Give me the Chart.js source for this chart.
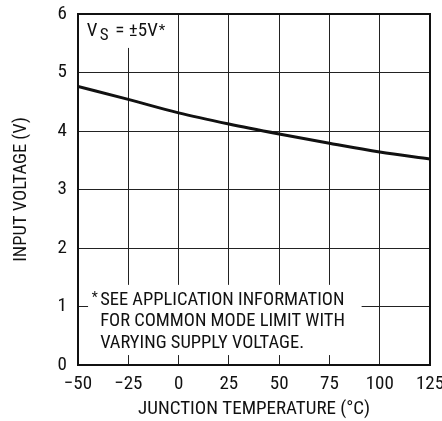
<!DOCTYPE html>
<html>
<head>
<meta charset="utf-8">
<script src="https://cdn.jsdelivr.net/npm/chart.js@4"></script>
<style>
  html, body { margin: 0; padding: 0; background: #fff; }
  #wrap { width: 442px; height: 421px; }
</style>
</head>
<body>
<div id="wrap"><canvas id="c" width="442" height="421"></canvas></div>
<script>
// Data
const temperatures = [-50, -25, 0, 25, 50, 75, 100, 125];
const inputVoltage = [4.76, 4.54, 4.31, 4.12, 3.95, 3.79, 3.64, 3.52];
const xTickValues = [-50, -25, 0, 25, 50, 75, 100, 125];
const xTickLabels = ['\u221250', '\u221225', '0', '25', '50', '75', '100', '125'];
const yTickValues = [0, 1, 2, 3, 4, 5, 6];
const xTitle = 'JUNCTION TEMPERATURE (\u00B0C)';
const yTitle = 'INPUT VOLTAGE (V)';
const noteLines = ['SEE APPLICATION INFORMATION', 'FOR COMMON MODE LIMIT WITH', 'VARYING SUPPLY VOLTAGE.'];

const FONT = '"Roboto Condensed", "Liberation Sans", Arial, sans-serif';

const annotations = {
  id: 'annotations',
  afterDraw(chart) {
    const ctx = chart.ctx;
    const xs = chart.scales.x, ys = chart.scales.y;
    const a = chart.chartArea;
    ctx.save();
    // white boxes
    ctx.fillStyle = '#fff';
    const b1x0 = xs.getPixelForValue(-50) + 1, b1x1 = xs.getPixelForValue(-20);
    const b1y0 = ys.getPixelForValue(6) + 1, b1y1 = ys.getPixelForValue(5.42);
    ctx.fillRect(b1x0, b1y0, b1x1 - b1x0, b1y1 - b1y0);
    const b2x0 = xs.getPixelForValue(-45), b2x1 = xs.getPixelForValue(91);
    const b2y0 = ys.getPixelForValue(1.37), b2y1 = ys.getPixelForValue(0.17);
    ctx.fillRect(b2x0, b2y0, b2x1 - b2x0, b2y1 - b2y0);

    ctx.fillStyle = '#111';
    ctx.textBaseline = 'alphabetic';
    ctx.textAlign = 'left';
    // V_S label
    const x0 = xs.getPixelForValue(-45.6);
    const base = ys.getPixelForValue(5.62);
    ctx.font = '19px ' + FONT;
    ctx.fillText('V', x0, base);
    ctx.font = '17px ' + FONT;
    ctx.fillText('S', x0 + 13, base + 4);
    ctx.font = '19px ' + FONT;
    ctx.fillText('=', x0 + 28.5, base);
    ctx.fillText('\u00B15V', x0 + 42, base);
    ctx.font = '15px ' + FONT;
    ctx.fillText('*', x0 + ctx.measureText('').width + 42 + (function(){ ctx.font = '19px ' + FONT; const w = ctx.measureText('\u00B15V').width; ctx.font = '15px ' + FONT; return w; })() + 1, base - 1);

    // footnote
    const nx = xs.getPixelForValue(-39);
    const ny = ys.getPixelForValue(1.026);
    ctx.font = '14px ' + FONT;
    ctx.fillText('*', nx - 8.5, ny - 3);
    ctx.font = '18.5px ' + FONT;
    noteLines.forEach((t, i) => ctx.fillText(t, nx, ny + i * 21.5));

    // frame
    ctx.strokeStyle = '#111';
    ctx.lineWidth = 2;
    ctx.strokeRect(a.left, a.top, a.right - a.left, a.bottom - a.top);
    ctx.restore();
  }
};

new Chart(document.getElementById('c'), {
  type: 'line',
  data: {
    datasets: [{
      data: temperatures.map((t, i) => ({ x: t, y: inputVoltage[i] })),
      borderColor: '#111',
      borderWidth: 3,
      pointRadius: 0,
      cubicInterpolationMode: 'monotone',
      fill: false
    }]
  },
  options: {
    responsive: false,
    animation: false,
    devicePixelRatio: 1,
    layout: { padding: { top: 14, right: 12, left: 0, bottom: 0 } },
    plugins: { legend: { display: false }, tooltip: { enabled: false } },
    scales: {
      x: {
        type: 'linear',
        min: -50, max: 125,
        afterBuildTicks: (s) => { s.ticks = xTickValues.map(v => ({ value: v })); },
        afterFit: (s) => { s.height = 56; s.paddingLeft = 0; s.paddingRight = 0; },
        ticks: {
          color: '#111',
          font: { family: FONT, size: 19 },
          padding: 8,
          maxRotation: 0,
          autoSkip: false,
          callback: (v) => { const i = xTickValues.indexOf(v); return i >= 0 ? xTickLabels[i] : ''; }
        },
        grid: { color: '#222', lineWidth: 1, drawTicks: false },
        border: { display: false },
        title: {
          display: true, text: xTitle, color: '#111',
          font: { family: FONT, size: 19, lineHeight: 1.2 },
          padding: { top: 0, bottom: 0 }
        }
      },
      y: {
        type: 'linear',
        min: 0, max: 6,
        afterBuildTicks: (s) => { s.ticks = yTickValues.map(v => ({ value: v })); },
        afterFit: (s) => { s.width = 78; s.paddingTop = 0; s.paddingBottom = 0; },
        ticks: {
          color: '#111',
          font: { family: FONT, size: 19 },
          padding: 11,
          autoSkip: false
        },
        grid: { color: '#222', lineWidth: 1, drawTicks: false },
        border: { display: false },
        title: {
          display: true, text: yTitle, color: '#111',
          font: { family: FONT, size: 18.5, lineHeight: 1.2 },
          padding: { top: 10, bottom: 0 }
        }
      }
    }
  },
  plugins: [annotations]
});
</script>
</body>
</html>
